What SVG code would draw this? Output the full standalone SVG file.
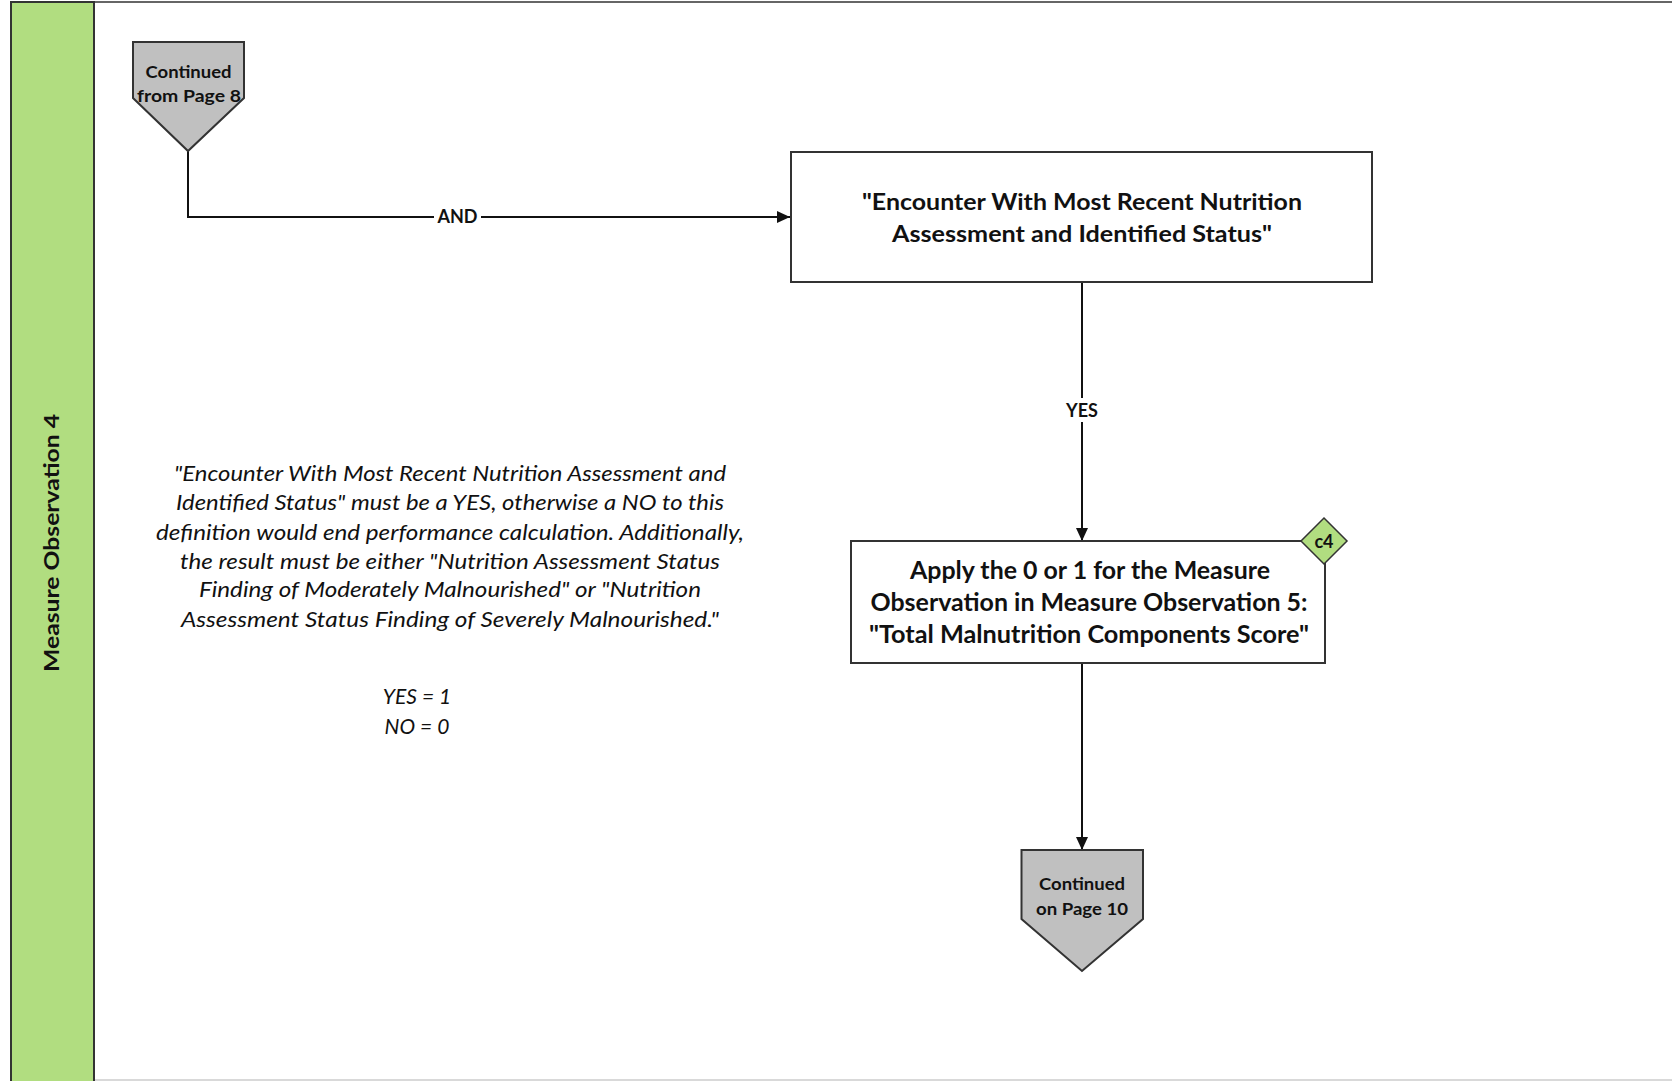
<svg xmlns="http://www.w3.org/2000/svg" width="1672" height="1081" viewBox="0 0 1672 1081">
<style>
.t{font-family:Lato,"Open Sans","Liberation Sans",sans-serif;fill:#111;text-anchor:middle}
.b{font-weight:bold}
.i{font-style:italic}
.box{fill:#fff;stroke:#333;stroke-width:2}
.off{fill:#c0c0c0;stroke:#333;stroke-width:2}
.ln{fill:none;stroke:#111;stroke-width:2}
</style>
<defs>
<marker id="arr" markerWidth="14" markerHeight="14" refX="13" refY="6" orient="auto" markerUnits="userSpaceOnUse">
<path d="M0,0 L13,6 L0,12 Z" fill="#111"/>
</marker>
</defs>
<rect width="1672" height="1081" fill="#fff"/>
<g id="frame">
<line x1="11" y1="2" x2="1672" y2="2" stroke="#666" stroke-width="2"/>
<line x1="94" y1="1080" x2="1672" y2="1080" stroke="#ccc" stroke-width="1.5"/>
</g>
<g id="lane">
<rect x="11" y="2" width="83" height="1085" fill="#b1dd80" stroke="#333" stroke-width="2"/>
<text class="t b" x="0" y="0" font-size="21" transform="translate(59,543) rotate(-90)" textLength="258" lengthAdjust="spacingAndGlyphs">Measure Observation 4</text>
</g>
<g id="connectors">
<polyline class="ln" points="188,151 188,217 790,217" marker-end="url(#arr)"/>
<rect x="434" y="207" width="47" height="20" fill="#fff"/>
<text class="t b" x="457.5" y="223" font-size="18">AND</text>
<line class="ln" x1="1082" y1="283" x2="1082" y2="541" marker-end="url(#arr)"/>
<rect x="1062" y="398" width="40" height="24" fill="#fff"/>
<text class="t b" x="1082" y="417" font-size="18">YES</text>
<line class="ln" x1="1082" y1="663" x2="1082" y2="850" marker-end="url(#arr)"/>
</g>
<g id="start">
<polygon class="off" points="133,42 244,42 244,98 188,151 133,98"/>
<text class="t b" x="188.5" y="78" font-size="17" textLength="86" lengthAdjust="spacingAndGlyphs">Continued</text>
<text class="t b" x="189" y="102" font-size="17" textLength="104" lengthAdjust="spacingAndGlyphs">from Page 8</text>
</g>
<g id="node1">
<rect class="box" x="791" y="152" width="581" height="130"/>
<text class="t b" x="1082" y="210" font-size="23" textLength="440" lengthAdjust="spacingAndGlyphs">"Encounter With Most Recent Nutrition</text>
<text class="t b" x="1082" y="242" font-size="23" textLength="380" lengthAdjust="spacingAndGlyphs">Assessment and Identified Status"</text>
</g>
<g id="node2">
<rect class="box" x="851" y="541" width="474" height="122"/>
<text class="t b" x="1090" y="579" font-size="24" textLength="360" lengthAdjust="spacingAndGlyphs">Apply the 0 or 1 for the Measure</text>
<text class="t b" x="1089" y="611" font-size="24" textLength="437" lengthAdjust="spacingAndGlyphs">Observation in Measure Observation 5:</text>
<text class="t b" x="1089" y="643" font-size="24" textLength="440" lengthAdjust="spacingAndGlyphs">"Total Malnutrition Components Score"</text>
</g>
<g id="c4">
<polygon points="1324,518 1347,541 1324,564 1301,541" fill="#b1dd80" stroke="#333" stroke-width="1.5"/>
<text class="t b" x="1324" y="548" font-size="18">c4</text>
</g>
<g id="end">
<polygon class="off" points="1021.5,850 1143,850 1143,919 1082,971 1021.5,919"/>
<text class="t b" x="1082" y="890" font-size="17" textLength="86" lengthAdjust="spacingAndGlyphs">Continued</text>
<text class="t b" x="1082" y="915" font-size="17" textLength="92" lengthAdjust="spacingAndGlyphs">on Page 10</text>
</g>
<g id="note">
<text class="t i" x="450" y="481" font-size="21" textLength="552" lengthAdjust="spacingAndGlyphs">"Encounter With Most Recent Nutrition Assessment and</text>
<text class="t i" x="450" y="510" font-size="21" textLength="548" lengthAdjust="spacingAndGlyphs">Identified Status" must be a YES, otherwise a NO to this</text>
<text class="t i" x="450" y="539.5" font-size="21" textLength="588" lengthAdjust="spacingAndGlyphs">definition would end performance calculation. Additionally,</text>
<text class="t i" x="450" y="569" font-size="21" textLength="540" lengthAdjust="spacingAndGlyphs">the result must be either "Nutrition Assessment Status</text>
<text class="t i" x="450" y="597" font-size="21" textLength="502" lengthAdjust="spacingAndGlyphs">Finding of Moderately Malnourished" or "Nutrition</text>
<text class="t i" x="450" y="627" font-size="21" textLength="538" lengthAdjust="spacingAndGlyphs">Assessment Status Finding of Severely Malnourished."</text>
<text class="t i" x="417" y="704" font-size="21">YES = 1</text>
<text class="t i" x="417" y="733.5" font-size="21">NO = 0</text>
</g>
</svg>
